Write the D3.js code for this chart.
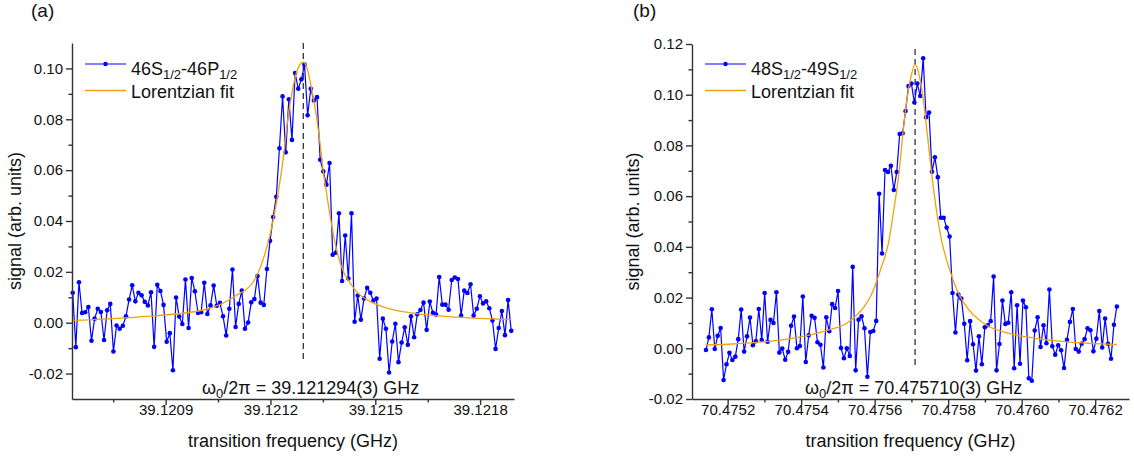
<!DOCTYPE html>
<html>
<head>
<meta charset="utf-8">
<script src="https://d3js.org/d3.v7.min.js"></script>
<style>
body { margin: 0; background: #fff; }
svg { display: block; font-family: "Liberation Sans", Arial, sans-serif; }
</style>
</head>
<body>
<script>
// ---- scan (a) : 46S1/2 - 46P1/2 ----
var freqStartA = 39.120634, freqStepA = 0.000008965;
var signalA = [
  0.0118, -0.0096, 0.0159, 0.0038, 0.0041, 0.0062, -0.0071, 0.0016, 0.0055, 0.0042,
  -0.0068, 0.0049, 0.0074, -0.0113, -0.0011, -0.0024, -0.0012, 0.0025, 0.0091, 0.0147,
  0.0084, 0.0118, 0.0108, 0.0082, 0.0068, 0.0120, -0.0095, 0.0149, 0.0125, 0.0070,
  -0.0075, -0.0041, -0.0187, 0.0099, 0.0024, -0.0005, 0.0170, -0.0021, 0.0176, 0.0124,
  0.0038, 0.0041, 0.0157, 0.0034, 0.0068, 0.0146, 0.0067, 0.0078, 0.0025, -0.0050,
  0.0055, 0.0209, -0.0017, 0.0074, 0.0126, -0.0024, 0.0001, 0.0080, 0.0093, 0.0184,
  0.0079, 0.0070, 0.0211, 0.0322, 0.0416, 0.0495, 0.0686, 0.0890, 0.0670, 0.0879,
  0.0719, 0.0982, 0.0920, 0.0957, 0.1015, 0.0816, 0.0920, 0.0874, 0.0887, 0.0641,
  0.0595, 0.0543, 0.0628, 0.0267, 0.0275, 0.0430, 0.0164, 0.0343, 0.0174, 0.0430,
  0.0004, 0.0107, 0.0012, 0.0095, 0.0137, 0.0118, 0.0087, 0.0095, -0.0142, 0.0016,
  -0.0024, -0.0196, -0.0074, -0.0004, -0.0155, -0.0078, -0.0018, -0.0087, 0.0025, -0.0057,
  0.0033, 0.0050, 0.0079, -0.0028, 0.0083, 0.0039, 0.0032, 0.0180, 0.0071, 0.0071,
  0.0051, 0.0168, 0.0178, 0.0172, 0.0028, 0.0126, 0.0117, 0.0151, 0.0028, 0.0055,
  0.0104, 0.0076, 0.0084, 0.0057, 0.0009, -0.0103, -0.0021, 0.0046, -0.0049, 0.0089, -0.0032
];
var fitFreqA = [39.120634, 39.120817, 39.121008, 39.121103, 39.121151, 39.121179, 39.121198, 39.121218,
  39.121237, 39.121251, 39.121261, 39.121275, 39.121284, 39.121293, 39.121304, 39.121313, 39.121322,
  39.121332, 39.121342, 39.121351, 39.121361, 39.121370, 39.121380, 39.121390, 39.121408, 39.121428,
  39.121447, 39.121494, 39.121542, 39.121637, 39.121733, 39.121889];
var fitValA = [0.0009, 0.0022, 0.0050, 0.0108, 0.0161, 0.0249, 0.0341, 0.0479,
  0.0650, 0.0815, 0.0900, 0.0986, 0.1015, 0.1025, 0.1005, 0.0953, 0.0887,
  0.0808, 0.0703, 0.0597, 0.0505, 0.0426, 0.0347, 0.0282, 0.0203, 0.0157,
  0.0121, 0.0078, 0.0054, 0.0033, 0.0022, 0.0012];
var centerA = 39.121294;
var xTicksA = [39.1209, 39.1212, 39.1215, 39.1218];
var xMinorA = [39.12075, 39.12105, 39.12135, 39.12165];
var yTicksA = [-0.02, 0.00, 0.02, 0.04, 0.06, 0.08, 0.10];
var yMinorA = [-0.01, 0.01, 0.03, 0.05, 0.07, 0.09];

// ---- scan (b) : 48S1/2 - 49S1/2 ----
var freqStartB = 70.475141, freqStepB = 0.000007986;
var signalB = [
  -0.0007, 0.0043, 0.0154, -0.0003, 0.0049, 0.0080, -0.0125, -0.0063, -0.0018, -0.0046,
  -0.0033, 0.0036, 0.0153, -0.0013, 0.0047, 0.0121, 0.0012, 0.0028, 0.0155, 0.0033,
  0.0218, 0.0026, 0.0112, 0.0100, 0.0221, -0.0017, -0.0001, -0.0045, -0.0014, 0.0089,
  0.0125, 0.0000, 0.0009, 0.0204, -0.0054, 0.0051, 0.0128, 0.0120, 0.0024, 0.0014,
  -0.0076, 0.0122, 0.0067, 0.0174, 0.0159, 0.0226, 0.0001, -0.0039, 0.0000, -0.0030,
  0.0321, -0.0087, 0.0113, 0.0126, 0.0079, -0.0112, 0.0064, 0.0068, 0.0108, 0.0609,
  0.0374, 0.0703, 0.0695, 0.0720, 0.0624, 0.0695, 0.0845, 0.0848, 0.0936, 0.1034,
  0.1044, 0.0969, 0.1044, 0.0995, 0.1144, 0.0911, 0.0930, 0.0696, 0.0753, 0.0675,
  0.0515, 0.0515, 0.0476, 0.0441, 0.0218, 0.0062, 0.0212, 0.0196, 0.0097, -0.0047,
  0.0107, 0.0016, -0.0088, 0.0047, -0.0063, 0.0083, 0.0091, 0.0107, 0.0283, -0.0087,
  0.0017, 0.0188, 0.0096, 0.0101, 0.0221, -0.0079, 0.0170, -0.0061, 0.0188, 0.0162,
  -0.0118, -0.0128, 0.0070, 0.0122, 0.0005, 0.0091, 0.0020, 0.0232, 0.0008, -0.0025,
  0.0012, -0.0008, -0.0078, 0.0033, 0.0104, 0.0155, -0.0003, -0.0013, 0.0018, 0.0036,
  0.0079, 0.0071, -0.0012, 0.0038, 0.0147, 0.0003, 0.0117, 0.0018, -0.0041, 0.0093, 0.0165
];
var fitFreqB = [70.475141, 70.475201, 70.475293, 70.475383, 70.475473, 70.475525, 70.475571, 70.475589,
  70.475616, 70.475639, 70.475652, 70.475666, 70.475675, 70.475684, 70.475698, 70.475710, 70.475723,
  70.475736, 70.475745, 70.475755, 70.475768, 70.475782, 70.475804, 70.475832, 70.475850, 70.475895,
  70.475968, 70.476014, 70.476076, 70.476259];
var fitValB = [0.0013, 0.0016, 0.0025, 0.0041, 0.0072, 0.0100, 0.0163, 0.0205,
  0.0310, 0.0426, 0.0545, 0.0690, 0.0821, 0.0940, 0.1065, 0.1120, 0.1065,
  0.0940, 0.0821, 0.0690, 0.0545, 0.0426, 0.0310, 0.0205, 0.0163, 0.0100,
  0.0058, 0.0045, 0.0032, 0.0015];
var centerB = 70.475710;
var xTicksB = [70.4752, 70.4754, 70.4756, 70.4758, 70.4760, 70.4762];
var xMinorB = [70.4753, 70.4755, 70.4757, 70.4759, 70.4761];
var yTicksB = [-0.02, 0.00, 0.02, 0.04, 0.06, 0.08, 0.10, 0.12];
var yMinorB = [-0.01, 0.01, 0.03, 0.05, 0.07, 0.09, 0.11];

var width = 1134, height = 461, axisY = 399;
var blue = "#0000ff", orange = "#f0a30a", ink = "#111", axisColor = "#333";

var svg = d3.select("body").append("svg")
    .attr("width", width)
    .attr("height", height);

var panels = [
  {label: "(a)", labelX: 31, left: 72, right: 514, top: 43, titleX: 21,
   xDomain: [39.120632, 39.121897], yDomain: [-0.03, 0.11],
   freqStart: freqStartA, freqStep: freqStepA, signal: signalA,
   fitFreq: fitFreqA, fitVal: fitValA, center: centerA, span: [0.11, -0.0154],
   xTicks: xTicksA, xMinor: xMinorA, yTicks: yTicksA, yMinor: yMinorA,
   legendX: 85, name: [["46S", 0], ["1/2", 1], ["-46P", 0], ["1/2", 1]],
   noteX: 202, note: "/2\u03c0 = 39.121294(3) GHz"},
  {label: "(b)", labelX: 633, left: 692, right: 1129, top: 44, titleX: 639,
   xDomain: [70.475103, 70.476292], yDomain: [-0.02, 0.12],
   freqStart: freqStartB, freqStep: freqStepB, signal: signalB,
   fitFreq: fitFreqB, fitVal: fitValB, center: centerB, span: [0.118, -0.0066],
   xTicks: xTicksB, xMinor: xMinorB, yTicks: yTicksB, yMinor: yMinorB,
   legendX: 705, name: [["48S", 0], ["1/2", 1], ["-49S", 0], ["1/2", 1]],
   noteX: 805, note: "/2\u03c0 = 70.475710(3) GHz"}
];

panels.forEach(drawPanel);

function drawPanel(p) {
    var x = d3.scaleLinear().domain(p.xDomain).range([p.left, p.right]);
    var y = d3.scaleLinear().domain(p.yDomain).range([axisY, p.top]);
    var g = svg.append("g");

    //dashed line at the fitted centre
    g.append("line")
        .attr("x1", x(p.center)).attr("x2", x(p.center))
        .attr("y1", y(p.span[0])).attr("y2", y(p.span[1]))
        .attr("stroke", "#333")
        .attr("stroke-width", 1.3)
        .attr("stroke-dasharray", "6,4");

    //measured points
    var pts = p.signal.map(function(v, i) {
        return {f: p.freqStart + i * p.freqStep, s: v};
    });
    var line = d3.line()
        .x(function(d) { return x(d.f); })
        .y(function(d) { return y(d.s); });

    g.append("path")
        .datum(pts)
        .attr("d", line)
        .attr("fill", "none")
        .attr("stroke", blue)
        .attr("stroke-width", 1.2);

    g.selectAll(".dot")
        .data(pts)
        .enter().append("circle")
        .attr("class", "dot")
        .attr("cx", function(d) { return x(d.f); })
        .attr("cy", function(d) { return y(d.s); })
        .attr("r", 2.3)
        .attr("fill", blue);

    //lorentzian fit
    var fit = p.fitFreq.map(function(f, i) { return {f: f, s: p.fitVal[i]}; });
    g.append("path")
        .datum(fit)
        .attr("d", line.curve(d3.curveMonotoneX))
        .attr("fill", "none")
        .attr("stroke", orange)
        .attr("stroke-width", 1.3);

    //axes, major and minor ticks
    var fmtY = function(v) { return d3.format(".2f")(v).replace("\u2212", "-"); };
    var yAxis = g.append("g")
        .attr("transform", "translate(" + p.left + ",0)")
        .call(d3.axisLeft(y).tickValues(p.yTicks).tickSize(6).tickPadding(3)
            .tickSizeOuter(0).tickFormat(fmtY));
    var yMinor = g.append("g")
        .attr("transform", "translate(" + p.left + ",0)")
        .call(d3.axisLeft(y).tickValues(p.yMinor).tickSize(3.5).tickSizeOuter(0).tickFormat(""));
    var xAxis = g.append("g")
        .attr("transform", "translate(0," + axisY + ")")
        .call(d3.axisBottom(x).tickValues(p.xTicks).tickSize(6).tickPadding(0)
            .tickSizeOuter(0).tickFormat(d3.format(".4f")));
    var xMinor = g.append("g")
        .attr("transform", "translate(0," + axisY + ")")
        .call(d3.axisBottom(x).tickValues(p.xMinor).tickSize(3.5).tickSizeOuter(0).tickFormat(""));

    [yMinor, xMinor].forEach(function(a) { a.select(".domain").remove(); });
    [yAxis, yMinor, xAxis, xMinor].forEach(function(a) {
        a.selectAll("line, path").attr("stroke", axisColor).attr("stroke-width", 1.4);
        a.selectAll("text").attr("fill", ink).style("font-size", "15px")
            .style("font-family", "'Liberation Sans', Arial, sans-serif");
    });
    xAxis.selectAll("text").attr("y", 5);

    //axis titles
    g.append("text")
        .attr("x", (p.left + p.right) / 2)
        .attr("y", 447)
        .attr("text-anchor", "middle")
        .style("font-size", "18px")
        .attr("fill", ink)
        .text("transition frequency (GHz)");

    g.append("text")
        .attr("transform", "translate(" + p.titleX + "," + (axisY + p.top) / 2 + ") rotate(-90)")
        .attr("text-anchor", "middle")
        .style("font-size", "18px")
        .attr("fill", ink)
        .text("signal (arb. units)");

    //panel letter
    g.append("text")
        .attr("x", p.labelX)
        .attr("y", 17)
        .style("font-size", "19px")
        .attr("fill", ink)
        .text(p.label);

    //fitted centre note
    var note = g.append("text")
        .attr("x", p.noteX)
        .attr("y", 394)
        .style("font-size", "18px")
        .attr("fill", ink);
    note.append("tspan").text("\u03c9");
    note.append("tspan").attr("dy", 4).style("font-size", "13px").text("0");
    note.append("tspan").attr("dy", -4).text(p.note);

    //legend
    var lx = p.legendX;
    g.append("line")
        .attr("x1", lx).attr("x2", lx + 41).attr("y1", 64).attr("y2", 64)
        .attr("stroke", blue).attr("stroke-width", 1.2);
    g.append("circle")
        .attr("cx", lx + 20.5).attr("cy", 64).attr("r", 2.2).attr("fill", blue);
    var lt = g.append("text")
        .attr("x", lx + 46)
        .attr("y", 75)
        .style("font-size", "18px")
        .attr("fill", ink);
    var shift = 0;
    p.name.forEach(function(part) {
        var dy = part[1] ? 4 - shift : -shift;
        shift += dy;
        lt.append("tspan")
            .attr("dy", dy)
            .style("font-size", part[1] ? "13px" : "18px")
            .text(part[0]);
    });

    g.append("line")
        .attr("x1", lx).attr("x2", lx + 41).attr("y1", 90.5).attr("y2", 90.5)
        .attr("stroke", orange).attr("stroke-width", 1.3);
    g.append("text")
        .attr("x", lx + 46)
        .attr("y", 97.5)
        .style("font-size", "18px")
        .attr("fill", ink)
        .text("Lorentzian fit");
}
</script>
</body>
</html>
